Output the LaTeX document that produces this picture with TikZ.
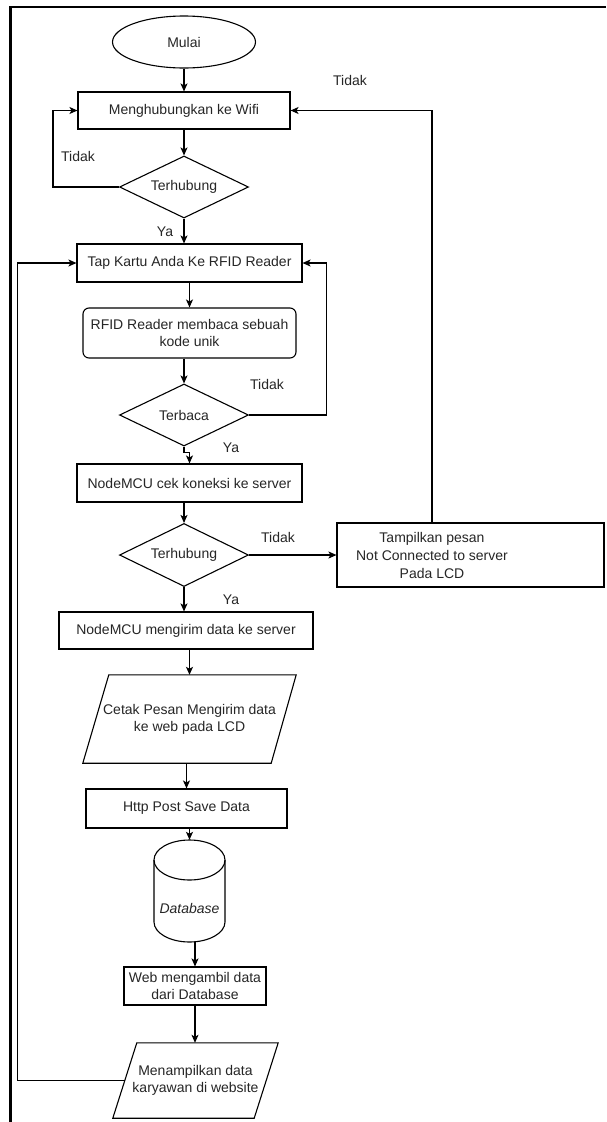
\documentclass[tikz,border=0pt]{standalone}
\usepackage{fontspec}
\setmainfont{Liberation Sans}
\usetikzlibrary{shapes.geometric,arrows.meta,calc}
\definecolor{txt}{HTML}{262626}
\begin{document}
\begin{tikzpicture}[x=1pt,y=-1pt,
  every node/.style={font=\fontsize{14}{17}\selectfont, text=txt},
  shp/.style={draw=black, line width=1.1pt, line join=miter},
  box/.style={shp, rectangle, inner sep=0pt},
  dec/.style={shp, diamond, inner sep=0pt, aspect=2},
  arr/.style={line width=1.1pt, -{Stealth[length=8pt,width=7pt,inset=2pt]}},
  lbl/.style={inner sep=0pt},
]
\useasboundingbox (0,0) rectangle (606,1122);
\fill[white] (0,0) rectangle (606,1122);
\draw[line width=2.2pt, line join=miter] (10.5,1122) -- (10.5,7) -- (606,7);

% nodes
\node[shp, ellipse, minimum width=143pt, minimum height=52pt, inner sep=0pt] (mulai) at (184,42) {Mulai};
\node[box, minimum width=212pt, minimum height=37pt] (wifi) at (184,110.5) {Menghubungkan ke Wifi};
\node[dec, minimum width=129pt, minimum height=62pt] (d1) at (184,187) {Terhubung};
\node[box, minimum width=225pt, minimum height=38pt] (tap) at (189.5,263) {Tap Kartu Anda Ke RFID Reader};
\node[box, rounded corners=6pt, minimum width=213pt, minimum height=50pt, align=center] (rfid) at (189.5,333) {RFID Reader membaca sebuah\\kode unik};
\node[dec, minimum width=129pt, minimum height=62pt] (d2) at (184,415) {Terbaca};
\node[box, minimum width=225pt, minimum height=38pt] (cek) at (189.5,483) {NodeMCU cek koneksi ke server};
\node[dec, minimum width=129pt, minimum height=63pt] (d3) at (184,555) {Terhubung};
\node[box, minimum width=267pt, minimum height=64pt] (tamp) at (470.5,555) {};
\node[lbl, align=center, font=\fontsize{14}{18}\selectfont] (tampt) at (432,555.5) {Tampilkan pesan\\Not Connected to server\\Pada LCD};
\node[box, minimum width=254pt, minimum height=37pt] (kirim) at (186,630.5) {NodeMCU mengirim data ke server};

\node[inner sep=0pt, minimum width=213pt, minimum height=88pt, align=center] (cetak) at (189.5,719) {Cetak Pesan Mengirim data\\ke web pada LCD};
\draw[shp] ($(cetak.north west)+(26,0)$) -- (cetak.north east) -- ($(cetak.south east)+(-25,0)$) -- (cetak.south west) -- cycle;

\node[box, minimum width=201pt, minimum height=39pt] (http) at (186.5,808.5) {Http Post Save Data};

\node[inner sep=0pt, minimum width=71pt, minimum height=102pt] (db) at (189.5,891) {};
\draw[shp] (189.5,860) ellipse [x radius=35.5, y radius=20];
\draw[shp] (154,860) -- (154,922) arc[start angle=180, end angle=0, x radius=35.5, y radius=20] -- (225,860);
\node[lbl, font=\fontsize{14}{17}\selectfont\itshape] (dbt) at (189.5,908) {Database};

\node[box, minimum width=142pt, minimum height=38pt, align=center] (web) at (195,986) {Web mengambil data\\dari Database};

\node[inner sep=0pt, minimum width=165pt, minimum height=75pt, align=center] (tampil) at (195.5,1080.5) {Menampilkan data\\karyawan di website};
\draw[shp] ($(tampil.north west)+(24,0)$) -- (tampil.north east) -- ($(tampil.south east)+(-24,0)$) -- (tampil.south west) -- cycle;
\coordinate (tl) at ($(tampil.west)+(12,0)$);

% labels
\node[lbl] (l1) at (350,80) {Tidak};
\node[lbl] (l2) at (78,156) {Tidak};
\node[lbl] (l3) at (165,232) {Ya};
\node[lbl] (l4) at (267,384) {Tidak};
\node[lbl] (l5) at (231,448) {Ya};
\node[lbl] (l6) at (278,537) {Tidak};
\node[lbl] (l7) at (231,600) {Ya};

% connectors
\draw[arr] (mulai.south) -- (wifi.north);
\draw[arr] (wifi.south) -- (d1.north);
\draw[arr] (d1.west) -- ++(-66,0) |- (wifi.west);
\draw[arr] (d1.south) -- (d1.south |- tap.north);
\draw[arr] (tap.south) -- (rfid.north);
\draw[arr] (rfid.south -| d2.north) -- (d2.north);
\draw[arr] (d2.east) -- ++(77,0) |- (tap.east);
\draw[arr] (d2.south) -- ++(0,6) -| (cek.north);
\draw[arr] (cek.south -| d3.north) -- (d3.north);
\draw[arr] (d3.east) -- (tamp.west);
\draw[arr] ([xshift=-38.5pt]tamp.north) |- (wifi.east);
\draw[arr] (d3.south) -- (d3.south |- kirim.north);
\draw[arr] (kirim.south -| cetak.center) -- (cetak.north);
\draw[arr] (http.north |- cetak.south) -- (http.north);
\draw[arr] (db.north |- http.south) -- (db.north);
\draw[arr] (web.north |- db.south) -- (web.north);
\draw[arr] (web.south) -- (web.south |- tampil.north);
\draw[arr] (tl) -- ++(-107,0) |- (tap.west);
\end{tikzpicture}
\end{document}
